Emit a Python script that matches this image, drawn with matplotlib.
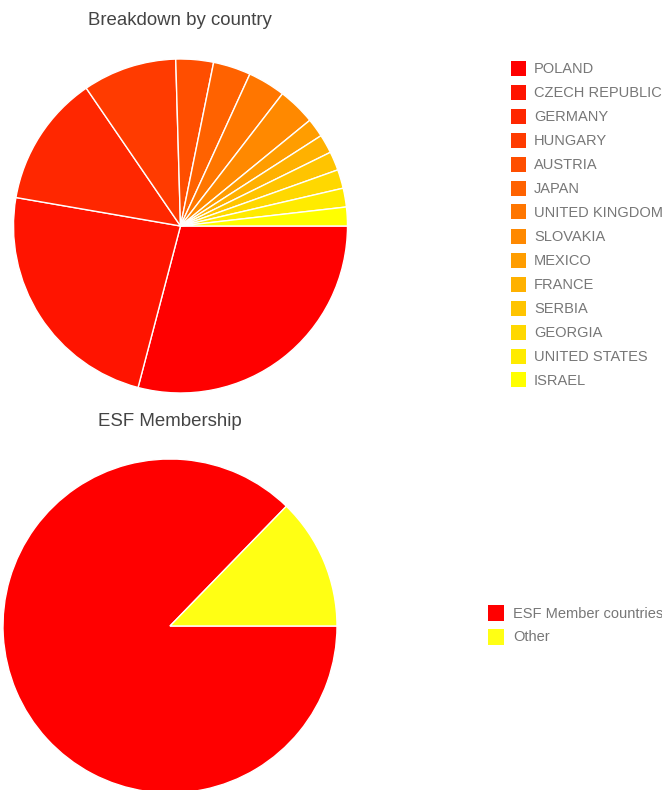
import matplotlib.pyplot as plt
from matplotlib.patches import Rectangle

plt.rcParams['font.family'] = ['Liberation Sans', 'DejaVu Sans']

# Datos: nº por país
paises = ["POLAND", "CZECH REPUBLIC", "GERMANY", "HUNGARY", "AUSTRIA", "JAPAN",
          "UNITED KINGDOM", "SLOVAKIA", "MEXICO", "FRANCE", "SERBIA", "GEORGIA",
          "UNITED STATES", "ISRAEL"]
valores = [16, 13, 7, 5, 2, 2, 2, 2, 1, 1, 1, 1, 1, 1]

grupos = ["ESF Member countries", "Other"]
valores_esf = [48, 7]

W, H = 662, 790

# Gradiente rojo -> amarillo
n = len(paises)
colores = [(1.0, i / (n - 1), 0.0) for i in range(n)]
colores_esf = [(1.0, 0.0, 0.0), (1.0, 1.0, 0.08)]


def caja(x0, y0, w, h):
    # pixeles (desde arriba) -> fracción de figura
    return [x0 / W, 1 - (y0 + h) / H, w / W, h / H]


fig = plt.figure(figsize=(W / 100, H / 100), dpi=100)

# Pie 1
ax1 = fig.add_axes(caja(13.5, 59, 334, 334))
ax1.pie(valores, colors=colores, startangle=0, counterclock=False, radius=1,
        wedgeprops=dict(edgecolor="white", linewidth=1.0))
ax1.set_xlim(-1, 1)
ax1.set_ylim(-1, 1)
ax1.set_aspect("equal")
ax1.axis("off")
fig.text(180 / W, 1 - 20.5 / H, "Breakdown by country", ha="center", va="center",
         fontsize=13.4, color="#444444")

# Pie 2
ax2 = fig.add_axes(caja(3, 459, 334, 334))
ax2.pie(valores_esf, colors=colores_esf, startangle=0, counterclock=False, radius=1,
        wedgeprops=dict(edgecolor="white", linewidth=1.0))
ax2.set_xlim(-1, 1)
ax2.set_ylim(-1, 1)
ax2.set_aspect("equal")
ax2.axis("off")
fig.text(170 / W, 1 - 421.5 / H, "ESF Membership", ha="center", va="center",
         fontsize=13.4, color="#444444")


# Leyendas
def leyenda(etiquetas, cols, x_cuad, x_txt, y0, paso, lado):
    for i, (lab, c) in enumerate(zip(etiquetas, cols)):
        y = y0 + i * paso
        fig.patches.append(Rectangle((x_cuad / W, 1 - (y + lado / 2) / H), lado / W, lado / H,
                                     transform=fig.transFigure, facecolor=c, edgecolor="none"))
        fig.text(x_txt / W, 1 - (y + 0.8) / H, lab, ha="left", va="center", fontsize=10.5,
                 color="#777777")


leyenda(paises, colores, 511, 534, 68, 24, 15)
leyenda(grupos, colores_esf, 488, 513, 613, 23.5, 16)

plt.savefig("out.png", dpi=100)
